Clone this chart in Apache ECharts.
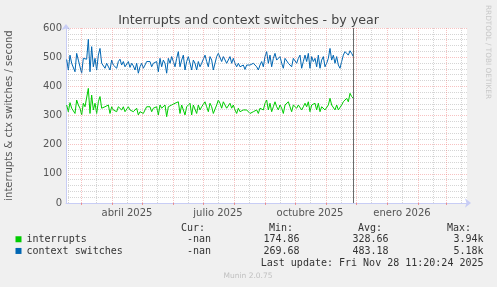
<!DOCTYPE html>
<html>
<head>
<meta charset="utf-8">
<script src="https://cdn.jsdelivr.net/npm/echarts@6/dist/echarts.min.js"></script>
<style>
  html, body { margin: 0; padding: 0; background: #f0f0f0; }
  #main { width: 497px; height: 287px; }
</style>
</head>
<body>
<div id="main"></div>
<script>
const HOUR = 3600 * 1000;
const sampleStart = Date.UTC(2025, 1, 14, 16);
const sampleStep = 40 * HOUR;
const axisStart = Date.UTC(2025, 1, 14);
const axisEnd = Date.UTC(2026, 2, 22);
const lastUpdate = Date.UTC(2025, 10, 28, 11, 20, 24);

// per-sample rates
const interrupts = [
  336, 313, 344, 325, 330, 307, 353, 336, 325, 302, 342, 330, 336, 393, 307, 370, 319, 342, 307, 347,
  365, 325, 319, 330, 325, 336, 307, 330, 319, 325, 313, 330, 336, 319, 330, 313, 307, 330, 319, 325,
  313, 307, 325, 302, 313, 319, 307, 319, 330, 336, 330, 313, 325,
  325, 330, 302, 336, 325, 330, 336, 296, 330, 325, 336, 330, 342, 336, 347, 307, 336, 342, 302, 330,
  336, 342, 302, 336, 330, 307, 336, 319, 330, 336, 347, 330, 313, 342, 330, 307, 302, 336, 353, 342,
  325, 347, 336, 325, 330, 342, 325, 336, 319, 307, 325, 313, 313, 319, 313, 319, 313,
  307, 310, 313, 316, 319, 307, 325, 330, 319, 342, 353, 319, 342, 313, 330, 347, 330, 319, 336, 325,
  307, 336, 330, 347, 330, 313, 336, 342, 325, 336, 342, 319, 330, 342, 330, 347, 313, 336, 330, 342,
  319, 342, 313, 330, 336, 319, 325, 336, 359, 336, 342, 319, 336, 319, 313, 336, 347, 353, 359, 347,
  376, 365, 359
];
const ctxSwitches = [
  492, 456, 507, 479, 485, 450, 513, 490, 467, 445, 496, 490, 493, 561, 450, 536, 467, 496, 456, 507,
  530, 479, 473, 462, 479, 485, 456, 490, 473, 479, 462, 485, 493, 473, 485, 467, 462, 485, 465, 479,
  470, 456, 479, 445, 467, 479, 462, 473, 485, 490, 485, 467, 479,
  479, 485, 450, 496, 467, 490, 479, 445, 496, 479, 502, 485, 467, 496, 519, 467, 490, 507, 456, 485,
  502, 507, 456, 490, 479, 456, 485, 467, 479, 485, 507, 485, 467, 502, 490, 456, 450, 502, 513, 507,
  485, 502, 496, 479, 485, 502, 479, 496, 479, 467, 479, 467, 462, 473, 458, 473, 467,
  473, 470, 479, 473, 467, 456, 473, 485, 467, 502, 519, 479, 507, 467, 496, 513, 490, 485, 502, 479,
  462, 496, 490, 479, 485, 467, 496, 502, 479, 496, 507, 462, 485, 507, 485, 513, 462, 502, 485, 496,
  467, 507, 462, 490, 502, 467, 479, 496, 530, 490, 507, 479, 502, 473, 462, 485, 507, 519, 525, 507,
  522, 513, 502
];

const monthNames = ['enero', 'febrero', 'marzo', 'abril', 'mayo', 'junio',
  'julio', 'agosto', 'septiembre', 'octubre', 'noviembre', 'diciembre'];
const labelDates = [
  Date.UTC(2025, 3, 16), Date.UTC(2025, 6, 16), Date.UTC(2025, 9, 16), Date.UTC(2026, 0, 16)
];
const monthStarts = [];
const midMonths = [];
for (let m = 1; m <= 14; m++) {
  monthStarts.push(Date.UTC(2025, m, 1));
  midMonths.push(Date.UTC(2025, m, 16));
}

const seriesNames = ['interrupts', 'context switches'];
const seriesColors = ['#00cc00', '#0066b3'];
const curVals = ['-nan', '-nan'];
const minVals = ['174.86', '269.68'];
const avgVals = ['328.66', '483.18'];
const maxVals = ['3.94k', '5.18k'];

const toPoints = (arr) => arr.map((v, i) => [sampleStart + i * sampleStep, v]);
const inRange = (t) => t > axisStart && t < axisEnd;

const MONO = 'DejaVu Sans Mono';
const SANS = 'DejaVu Sans';
const monoText = (text, x, y, align) => ({
  type: 'text', x: x, y: y,
  style: { text: text, font: '10px "' + MONO + '"', fill: '#333', textAlign: align || 'left', textVerticalAlign: 'middle' }
});

const graphics = [
  monoText('Cur:', 181, 228.3),
  monoText('Min:', 269, 228.3),
  monoText('Avg:', 358, 228.3),
  monoText('Max:', 447, 228.3),
];
[239.3, 251].forEach((y, i) => {
  graphics.push(monoText(curVals[i], 211, y, 'right'));
  graphics.push(monoText(minVals[i], 299.5, y, 'right'));
  graphics.push(monoText(avgVals[i], 388.5, y, 'right'));
  graphics.push(monoText(maxVals[i], 483.5, y, 'right'));
});
const d = new Date(lastUpdate);
const pad = (n) => String(n).padStart(2, '0');
graphics.push(monoText('Last update: Fri Nov ' + d.getUTCDate() + ' ' + pad(d.getUTCHours()) + ':' +
  pad(d.getUTCMinutes()) + ':' + pad(d.getUTCSeconds()) + ' ' + d.getUTCFullYear(), 483.5, 263.7, 'right'));
graphics.push({
  type: 'text', x: 248, y: 276,
  style: { text: 'Munin 2.0.75', font: '7.5px "' + SANS + '"', fill: '#c0c0c0', textAlign: 'center', textVerticalAlign: 'middle' }
});
graphics.push({
  type: 'text', x: 487.5, y: 5, rotation: -Math.PI / 2,
  style: { text: 'RRDTOOL / TOBI OETIKER', font: '7.3px "' + SANS + '"', fill: '#c8c8c8', textAlign: 'left', textVerticalAlign: 'middle' }
});

const redDots = { color: 'rgba(235,110,110,0.42)', type: [1, 1], width: 1 };
const grayDots = { color: 'rgba(150,150,150,0.4)', type: [1, 1], width: 1 };
const nowLine = { color: '#6a6a6a', type: 'solid', width: 1, opacity: 1 };
const axisCol = '#c8cdf5';

const chart = echarts.init(document.getElementById('main'));
chart.setOption({
  backgroundColor: '#f0f0f0',
  animation: false,
  title: {
    text: 'Interrupts and context switches - by year',
    left: 'center', top: 9,
    textStyle: { fontFamily: SANS, fontSize: 12.65, fontWeight: 'normal', color: '#444' }
  },
  legend: {
    orient: 'vertical', left: 15.5, top: 233.4, padding: 0,
    icon: 'rect', itemWidth: 6, itemHeight: 6, itemGap: 0,
    data: seriesNames,
    textStyle: { fontFamily: MONO, fontSize: 10, color: '#333', lineHeight: 11.7 },
    selectedMode: false
  },
  grid: {
    left: 66, right: 30, top: 28, bottom: 84, show: true, backgroundColor: '#fff', borderWidth: 0,
    containLabel: false, outerBoundsMode: 'none'
  },
  xAxis: {
    type: 'value', min: axisStart, max: axisEnd,
    axisLine: { lineStyle: { color: axisCol }, symbol: ['none', 'arrow'], symbolSize: [7, 6], symbolOffset: [0, 4] },
    axisTick: { show: true, customValues: monthStarts.filter(inRange), length: 2, inside: false, lineStyle: { color: 'rgba(235,110,110,0.7)' } },
    axisLabel: {
      customValues: labelDates, color: '#555', fontFamily: SANS, fontSize: 10, margin: 5,
      formatter: (v) => { const t = new Date(v); return monthNames[t.getUTCMonth()] + ' ' + t.getUTCFullYear(); }
    },
    splitLine: { show: false }
  },
  yAxis: {
    type: 'value', min: 0, max: 600, interval: 100,
    name: 'interrupts & ctx switches / second', nameLocation: 'middle', nameGap: 52,
    nameTextStyle: { fontFamily: SANS, fontSize: 10, color: '#555' },
    axisLine: { show: true, lineStyle: { color: axisCol }, symbol: ['none', 'arrow'], symbolSize: [7, 6], symbolOffset: [0, 4] },
    axisTick: { show: false },
    axisLabel: { color: '#555', fontFamily: SANS, fontSize: 10, margin: 4 },
    splitLine: { lineStyle: redDots },
    minorTick: { show: false, splitNumber: 5 },
    minorSplitLine: { show: true, lineStyle: grayDots }
  },
  graphic: graphics,
  series: [
    {
      type: 'line', name: 'grid', data: [], silent: true, z: 1,
      markLine: {
        silent: true, symbol: 'none', label: { show: false }, animation: false,
        data: midMonths.filter(inRange).map((t) => ({ xAxis: t, lineStyle: grayDots }))
          .concat(monthStarts.filter(inRange).map((t) => ({ xAxis: t, lineStyle: redDots })))
      }
    },
    {
      type: 'line', name: seriesNames[0], data: toPoints(interrupts), showSymbol: false, z: 3,
      color: seriesColors[0], lineStyle: { width: 1, color: seriesColors[0] }
    },
    {
      type: 'line', name: seriesNames[1], data: toPoints(ctxSwitches), showSymbol: false, z: 3,
      color: seriesColors[1], lineStyle: { width: 1, color: seriesColors[1] },
      markLine: {
        silent: true, symbol: 'none', label: { show: false }, animation: false,
        data: [{ xAxis: lastUpdate, lineStyle: nowLine }]
      }
    }
  ]
});
</script>
</body>
</html>
